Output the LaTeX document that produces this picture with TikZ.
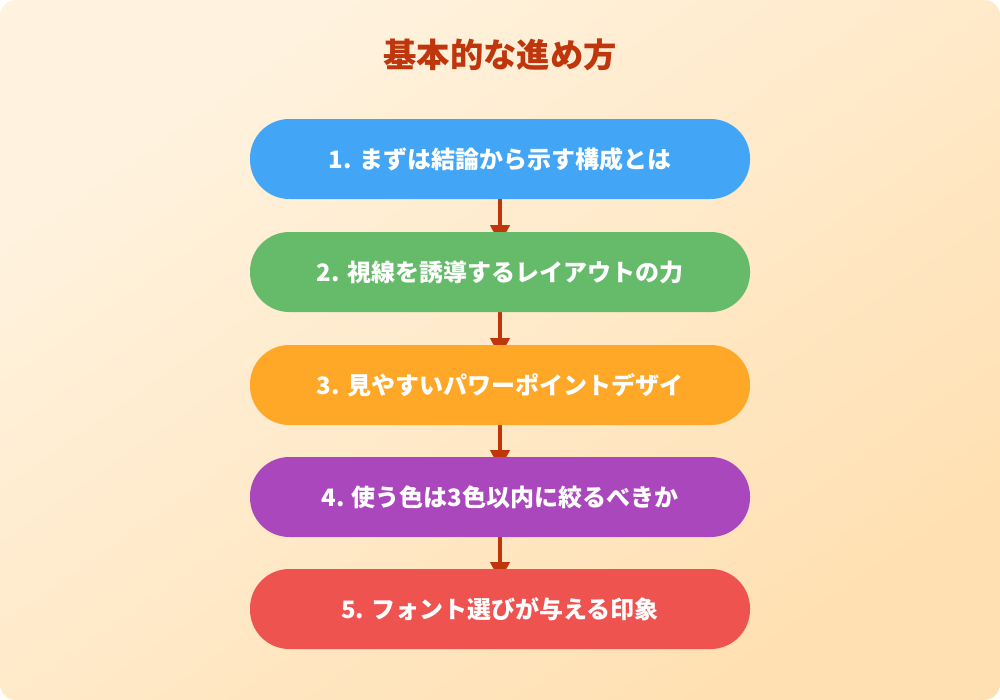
\documentclass[tikz,border=0pt]{standalone}
\usepackage{fontspec}
\newfontfamily\jp{Noto Sans CJK JP}
\usetikzlibrary{arrows.meta}
\pgfdeclarelayer{back}
\pgfdeclarelayer{bg}
\pgfsetlayers{back,bg,main}
\definecolor{bgA}{HTML}{FFF3E0}
\definecolor{bgB}{HTML}{FFE0B2}
\definecolor{ttl}{HTML}{BF360C}
\definecolor{cA}{HTML}{42A5F5}
\definecolor{cB}{HTML}{66BB6A}
\definecolor{cC}{HTML}{FFA726}
\definecolor{cD}{HTML}{AB47BC}
\definecolor{cE}{HTML}{EF5350}
\tikzset{
  stepbox/.style={rounded corners=29.5pt, minimum width=375pt, minimum height=60pt, inner sep=0pt,
    text=white, font=\jp\bfseries\fontsize{18pt}{22pt}\selectfont},
  flowarrow/.style={draw=ttl, line width=2.4pt, -{Triangle[width=14.5pt,length=14pt]}}
}
\begin{document}
\begin{tikzpicture}[x=0.75pt,y=-0.75pt]
\useasboundingbox (0,0) rectangle (1000,700);
\begin{pgfonlayer}{back}
\fill[white] (0,0) rectangle (1000,700);
\shade[rounded corners=12pt, top color=bgA, bottom color=bgB, shading angle=35] (0,0) rectangle (1000,700);
\end{pgfonlayer}
\node[font=\jp\bfseries\fontsize{25pt}{28pt}\selectfont, text=ttl] (title) at (500,55) {基本的な進め方};
\node[stepbox, fill=cA] (s1) at (500,159) {1. まずは結論から示す構成とは};
\node[stepbox, fill=cB] (s2) at (500,272) {2. 視線を誘導するレイアウトの力};
\node[stepbox, fill=cC] (s3) at (500,385) {3. 見やすいパワーポイントデザイ};
\node[stepbox, fill=cD] (s4) at (500,497) {4. 使う色は3色以内に絞るべきか};
\node[stepbox, fill=cE] (s5) at (500,609) {5. フォント選びが与える印象};
\begin{pgfonlayer}{bg}
\draw[flowarrow] (s1.south) -- ([yshift=-9pt]s2.north);
\draw[flowarrow] (s2.south) -- ([yshift=-9pt]s3.north);
\draw[flowarrow] (s3.south) -- ([yshift=-9pt]s4.north);
\draw[flowarrow] (s4.south) -- ([yshift=-9pt]s5.north);
\end{pgfonlayer}
\end{tikzpicture}
\end{document}
